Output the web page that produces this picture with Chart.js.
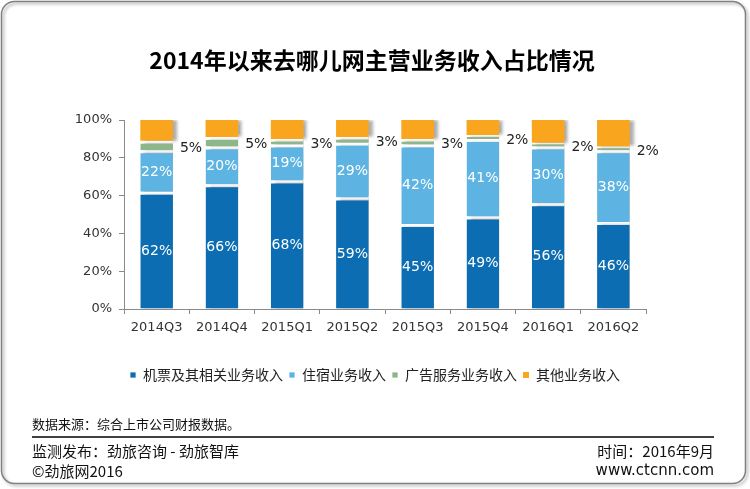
<!DOCTYPE html>
<html>
<head>
<meta charset="utf-8">
<script src="https://cdn.jsdelivr.net/npm/chart.js@4.4.1/dist/chart.umd.min.js"></script>
<style>
  html, body { margin: 0; padding: 0; background: #fff; }
  #wrap { position: relative; width: 750px; height: 489px; }
  canvas { display: block; }
</style>
</head>
<body>
<div id="wrap"><canvas id="c" width="750" height="489"></canvas></div>
<script>
const categories = ['2014Q3','2014Q4','2015Q1','2015Q2','2015Q3','2015Q4','2016Q1','2016Q2'];
const airTicket = [62, 66, 68, 59, 45, 49, 56, 46];
const hotel     = [22, 20, 19, 29, 42, 41, 30, 38];
const ads       = [5, 5, 3, 3, 3, 2, 2, 2];
const other     = [11, 9, 10, 9, 10, 8, 12, 14];
const yTicks = [0, 20, 40, 60, 80, 100];

const seriesNames = ['机票及其相关业务收入', '住宿业务收入', '广告服务业务收入', '其他业务收入'];
const seriesColors = ['#0d6db3', '#5db4e2', '#8db68a', '#f9a51d'];

const TITLE = '2014年以来去哪儿网主营业务收入占比情况';
const SOURCE = '数据来源：综合上市公司财报数据。';
const PUBLISHER = '监测发布：劲旅咨询 - 劲旅智库';
const DATE = '时间：2016年9月';
const COPY = '©劲旅网2016';
const SITE = 'www.ctcnn.com';

const CJK = '"Noto Sans CJK SC", "Noto Sans", sans-serif';
const LAT = '"DejaVu Sans", Verdana, sans-serif';

const framePlugin = {
  id: 'frame',
  beforeDraw(chart) {
    const ctx = chart.ctx;
    ctx.save();
    ctx.fillStyle = '#fff';
    ctx.fillRect(0, 0, chart.width, chart.height);
    ctx.shadowColor = 'rgba(0,0,0,0.35)';
    ctx.shadowOffsetX = 2;
    ctx.shadowOffsetY = 2;
    ctx.shadowBlur = 3;
    ctx.strokeStyle = '#808080';
    ctx.lineWidth = 1.5;
    ctx.beginPath();
    ctx.roundRect(1.5, 1.5, 744, 482, 13);
    ctx.stroke();
    ctx.restore();

    ctx.save();
    ctx.fillStyle = '#000';
    ctx.textAlign = 'center';
    ctx.textBaseline = 'middle';
    ctx.font = 'bold 23px ' + CJK;
    ctx.fillText(TITLE, 372, 60);

    ctx.textAlign = 'left';
    ctx.fillStyle = '#111';
    ctx.font = '13px ' + CJK;
    ctx.fillText(SOURCE, 32, 424);
    ctx.strokeStyle = '#000';
    ctx.lineWidth = 1.5;
    ctx.beginPath();
    ctx.moveTo(32, 437);
    ctx.lineTo(714, 437);
    ctx.stroke();
    ctx.font = '15px ' + CJK;
    ctx.fillText(PUBLISHER, 32, 451);
    ctx.fillText(COPY, 32, 471);
    ctx.textAlign = 'right';
    ctx.fillText(DATE, 714, 451);
    ctx.font = '15px ' + LAT;
    ctx.fillText(SITE, 714, 471);
    ctx.restore();
  }
};

const barFx = {
  id: 'barFx',
  beforeDatasetsDraw(chart) {
    const ctx = chart.ctx;
    ctx.save();
    ctx.shadowColor = 'rgba(0,0,0,0.32)';
    ctx.shadowOffsetX = 4;
    ctx.shadowOffsetY = 0;
    ctx.shadowBlur = 3;
  },
  afterDatasetsDraw(chart) {
    const ctx = chart.ctx;
    ctx.restore();
    ctx.save();
    chart.data.datasets.forEach((ds, di) => {
      if (di > 2) return;
      const meta = chart.getDatasetMeta(di);
      meta.data.forEach((el, i) => {
        const v = ds.data[i];
        const txt = v + '%';
        ctx.font = '14px ' + LAT;
        ctx.textBaseline = 'middle';
        if (di < 2) {
          ctx.fillStyle = '#ffffff';
          ctx.textAlign = 'center';
          ctx.fillText(txt, el.x, (el.y + el.base) / 2 + 1);
        } else {
          ctx.fillStyle = '#222';
          ctx.textAlign = 'left';
          ctx.fillText(txt, el.x + el.width / 2 + 7, (el.y + el.base) / 2 + 3);
        }
      });
    });
    ctx.restore();
  }
};

const datasets = [airTicket, hotel, ads, other].map((vals, k) => ({
  label: seriesNames[k],
  data: vals,
  backgroundColor: seriesColors[k],
  borderColor: '#ffffff',
  borderWidth: k < 3 ? {top: 3, bottom: 0, left: 0, right: 0} : 0,
  borderSkipped: 'start',
  categoryPercentage: 1.0,
  barPercentage: 0.5
}));

new Chart(document.getElementById('c'), {
  type: 'bar',
  data: { labels: categories, datasets },
  options: {
    responsive: false,
    animation: false,
    devicePixelRatio: 1,
    layout: { padding: { left: 60, right: 104, top: 120, bottom: 97 } },
    plugins: {
      title: { display: false },
      tooltip: { enabled: false },
      legend: {
        display: true,
        position: 'bottom',
        align: 'start',
        fullSize: false,
        labels: {
          boxWidth: 6,
          boxHeight: 6,
          padding: 6,
          color: '#222',
          font: { family: CJK, size: 14 }
        }
      }
    },
    scales: {
      x: {
        stacked: true,
        afterFit(scale) { scale.height = 53; },
        grid: { display: true, drawOnChartArea: false, drawTicks: true, tickLength: 5, color: '#8a8a8a', offset: true },
        border: { display: true, color: '#8a8a8a', width: 1 },
        ticks: { color: '#333', font: { family: LAT, size: 13 }, padding: 6, maxRotation: 0 }
      },
      y: {
        stacked: true,
        min: 0,
        max: 100,
        afterFit(scale) { scale.width = 64; },
        afterBuildTicks(scale) { scale.ticks = yTicks.map(v => ({ value: v })); },
        grid: { display: true, drawOnChartArea: false, drawTicks: true, tickLength: 5, color: '#8a8a8a' },
        border: { display: true, color: '#8a8a8a', width: 1 },
        ticks: { color: '#333', font: { family: LAT, size: 13 }, padding: 7, callback: v => v + '%' }
      }
    }
  },
  plugins: [framePlugin, barFx]
});
</script>
</body>
</html>
